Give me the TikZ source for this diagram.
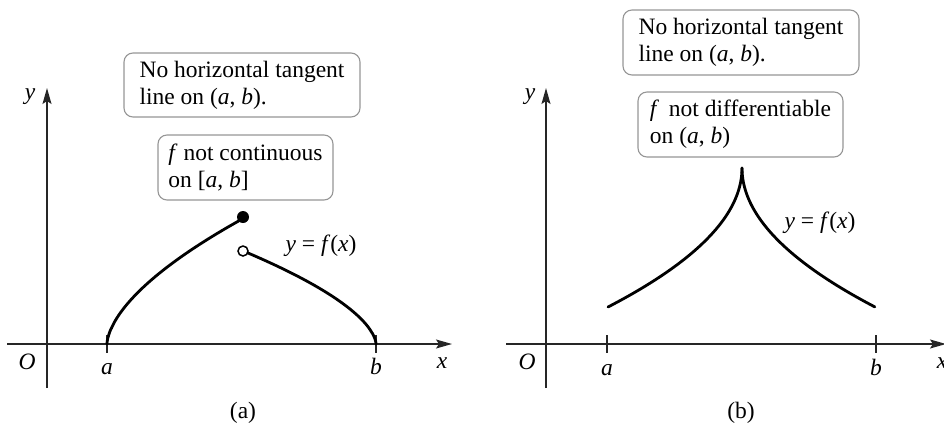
\documentclass[tikz,border=0pt]{standalone}
\usepackage{fontspec}
\setmainfont{Liberation Serif}
\usetikzlibrary{arrows.meta}
\definecolor{boxgray}{RGB}{150,150,150}
\tikzset{
  axis/.style={line width=1.4bp, draw=black!85, -{Stealth[length=16bp,width=9bp,inset=3bp]}},
  plain/.style={line width=1.4bp, draw=black!85},
  graphline/.style={line width=2.8bp, line cap=round},
  notebox/.style={draw=boxgray, line width=1.1bp, rounded corners=9bp, align=left, inner sep=0pt, fill=white},
  lbl/.style={anchor=base, inner sep=0pt},
}
\begin{document}
\begin{tikzpicture}[x=1bp,y=-1bp,font=\fontsize{23.5bp}{27bp}\selectfont]
\useasboundingbox (0,0) rectangle (944,424);
% ---------------- panel (a) ----------------
\coordinate (ax0) at (7,344);
\coordinate (ax1) at (452,344);
\coordinate (ay0) at (47,388);
\coordinate (ay1) at (47,88);
\draw[axis] (ax0) -- (ax1);
\draw[axis] (ay0) -- (ay1);
\coordinate (ta0) at (107,335); \coordinate (ta1) at (107,353);
\coordinate (tb0) at (376,335); \coordinate (tb1) at (376,353);
\draw[plain] (ta0) -- (ta1);
\draw[plain] (tb0) -- (tb1);
\node[lbl] (Oa) at (27,369) {\textit{O}};
\node[lbl] (aa) at (107,374) {\textit{a}};
\node[lbl] (ba) at (376,374) {\textit{b}};
\node[lbl] (xa) at (442,368) {\textit{x}};
\node[lbl] (ya) at (30,99) {\textit{y}};
\node[lbl] (capa) at (243,418) {(a)};
% curve left piece
\draw[graphline] (107,344) -- plot[domain=0.001:1, samples=80, variable=\s]
  ({107+137*pow(\s,5/3)}, {344-126*\s});
% curve right piece
\draw[graphline] plot[domain=1:0.001, samples=80, variable=\s]
  ({376-128*pow(\s,5/3)}, {344-91*\s}) -- (376,344);
\node[circle, fill=black, inner sep=0pt, minimum size=12bp] (fdot) at (243,217) {};
\node[circle, draw=black, fill=white, line width=1.5bp, inner sep=0pt, minimum size=10bp] (odot) at (243,251) {};
\node[lbl] (fa) at (321,251) {\textit{y} = \textit{f}(\textit{x})};
\node[notebox, minimum width=236bp, minimum height=64bp] (box1a) at (242,85)
  {No horizontal tangent\\line on (\textit{a}, \textit{b}).};
\node[notebox, minimum width=175bp, minimum height=65bp] (box2a) at (245.5,167.5)
  {\textit{f} not continuous\\on [\textit{a}, \textit{b}]};
% ---------------- panel (b) ----------------
\coordinate (bx0) at (506,344);
\coordinate (bx1) at (946,344);
\coordinate (by0) at (546,388);
\coordinate (by1) at (546,88);
\draw[axis] (bx0) -- (bx1);
\draw[axis] (by0) -- (by1);
\coordinate (tc0) at (607,335); \coordinate (tc1) at (607,353);
\coordinate (td0) at (876,335); \coordinate (td1) at (876,353);
\draw[plain] (tc0) -- (tc1);
\draw[plain] (td0) -- (td1);
\node[lbl] (Ob) at (527,369) {\textit{O}};
\node[lbl] (ab) at (607,375) {\textit{a}};
\node[lbl] (bb) at (876,375) {\textit{b}};
\node[lbl] (xb) at (942,368) {\textit{x}};
\node[lbl] (yb) at (530,99) {\textit{y}};
\node[lbl] (capb) at (741,418) {(b)};
\draw[graphline] plot[domain=1:0, samples=60, variable=\s]
  ({742-134*\s*\s}, {168+139*\s});
\draw[graphline] plot[domain=0:1, samples=60, variable=\s]
  ({742+133*\s*\s}, {168+139*\s});
\node[lbl] (fb) at (820,228) {\textit{y} = \textit{f}(\textit{x})};
\node[notebox, minimum width=236bp, minimum height=65bp] (box1b) at (741,42.5)
  {No horizontal tangent\\line on (\textit{a}, \textit{b}).};
\node[notebox, minimum width=205bp, minimum height=65bp] (box2b) at (740.5,124.5)
  {\textit{f}\, not differentiable\\on (\textit{a}, \textit{b})};
\end{tikzpicture}
\end{document}
